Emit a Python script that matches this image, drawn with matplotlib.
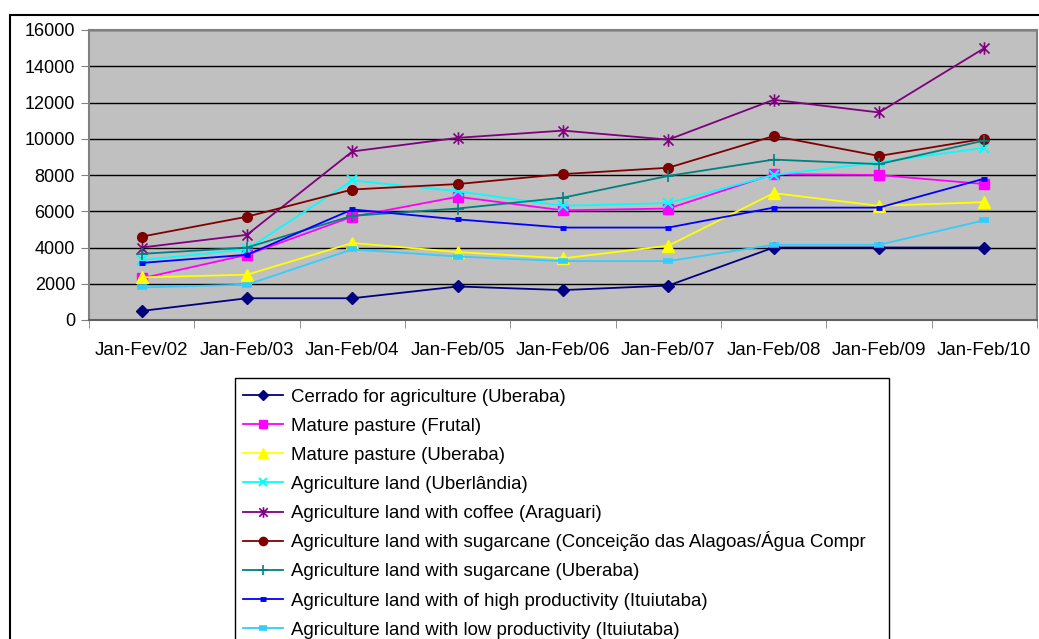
import matplotlib
matplotlib.use("Agg")
import matplotlib.pyplot as plt
from matplotlib.path import Path
from matplotlib.patches import Rectangle
from matplotlib.lines import Line2D

plt.rcParams['font.family'] = ['Liberation Sans', 'DejaVu Sans']

periods = ["Jan-Fev/02", "Jan-Feb/03", "Jan-Feb/04", "Jan-Feb/05", "Jan-Feb/06",
           "Jan-Feb/07", "Jan-Feb/08", "Jan-Feb/09", "Jan-Feb/10"]

cerrado_uberaba = [500, 1200, 1200, 1850, 1650, 1900, 4000, 4000, 4000]
pasture_frutal = [2300, 3600, 5700, 6800, 6050, 6150, 8050, 8000, 7500]
pasture_uberaba = [2350, 2500, 4250, 3750, 3400, 4100, 7000, 6300, 6500]
agri_uberlandia = [3300, 3900, 7700, 7100, 6300, 6450, 8000, 8700, 9500]
coffee_araguari = [4000, 4700, 9300, 10050, 10450, 9950, 12150, 11450, 15000]
sugar_conceicao = [4600, 5700, 7200, 7500, 8050, 8400, 10150, 9050, 10000]
sugar_uberaba = [3650, 4000, 5750, 6150, 6750, 7950, 8850, 8600, 9900]
high_prod_ituiutaba = [3150, 3600, 6100, 5550, 5100, 5100, 6200, 6200, 7800]
low_prod_ituiutaba = [1800, 1950, 3900, 3500, 3250, 3250, 4150, 4150, 5500]

y_ticks = [0, 2000, 4000, 6000, 8000, 10000, 12000, 14000, 16000]

asterisk = Path([(0, -1), (0, 1), (-0.8, -0.8), (0.8, 0.8), (-0.8, 0.8), (0.8, -0.8)],
                [Path.MOVETO, Path.LINETO, Path.MOVETO, Path.LINETO, Path.MOVETO, Path.LINETO])

series = [
    ("Cerrado for agriculture (Uberaba)", cerrado_uberaba, "#000080",
     dict(marker="D", markersize=6)),
    ("Mature pasture (Frutal)", pasture_frutal, "#FF00FF",
     dict(marker="s", markersize=7)),
    ("Mature pasture (Uberaba)", pasture_uberaba, "#FFFF00",
     dict(marker="^", markersize=8)),
    ("Agriculture land (Uberlândia)", agri_uberlandia, "#00FFFF",
     dict(marker="x", markersize=7, markeredgewidth=1.5)),
    ("Agriculture land with coffee (Araguari)", coffee_araguari, "#800080",
     dict(marker=asterisk, markersize=9, markeredgewidth=1.2)),
    ("Agriculture land with sugarcane (Conceição das Alagoas/Água Compr", sugar_conceicao, "#800000",
     dict(marker="o", markersize=7)),
    ("Agriculture land with sugarcane (Uberaba)", sugar_uberaba, "#008080",
     dict(marker="+", markersize=9, markeredgewidth=1.2)),
    ("Agriculture land with of high productivity (Ituiutaba)", high_prod_ituiutaba, "#0000FF",
     dict(marker="_", markersize=5, markeredgewidth=3.5)),
    ("Agriculture land with low productivity (Ituiutaba)", low_prod_ituiutaba, "#33CCFF",
     dict(marker="_", markersize=7, markeredgewidth=4)),
]

W, H = 1039, 639
fig = plt.figure(figsize=(W / 100, H / 100), dpi=100)
fig.patch.set_facecolor("white")


def fx(px):
    return px / W


def fy(py):
    return 1 - py / H


# outer chart frame
fig.add_artist(Rectangle((fx(10), -0.1), 1.2, fy(15) + 0.1,
                         transform=fig.transFigure, fill=False,
                         edgecolor="black", linewidth=1.5))

ax = fig.add_axes([fx(89), fy(320), fx(1037 - 89), (320 - 30) / H])
ax.set_facecolor("#C0C0C0")

x = list(range(len(periods)))
for label, values, color, style in series:
    ax.plot(x, values, color=color, linewidth=1.3, label=label,
            markerfacecolor=color, markeredgecolor=color, **style)

ax.set_xlim(-0.5, len(periods) - 0.5)
ax.set_ylim(0, 16000)
ax.set_yticks(y_ticks)
ax.set_yticklabels([str(v) for v in y_ticks], fontsize=13)
ax.yaxis.grid(True, color="black", linewidth=1)
ax.set_axisbelow(True)

ax.set_xticks(x)
ax.set_xticklabels(periods, fontsize=13.4)
ax.tick_params(axis="x", which="major", length=0, pad=16)
ax.set_xticks([i - 0.5 for i in range(len(periods) + 1)], minor=True)
ax.tick_params(axis="x", which="minor", length=6, direction="out", color="#808080")
ax.tick_params(axis="y", length=6, direction="out", color="#808080", pad=4)

for side in ["top", "right", "left"]:
    ax.spines[side].set_color("#808080")
    ax.spines[side].set_linewidth(1.5)
ax.spines["bottom"].set_color("#606060")
ax.spines["bottom"].set_linewidth(1.5)

# legend box with evenly spaced rows
fig.add_artist(Rectangle((fx(235), -0.1), fx(889 - 235), fy(378) + 0.1,
                         transform=fig.transFigure, fill=False,
                         edgecolor="black", linewidth=1.0))
row_top, row_step = 395, 29.15
for i, (label, values, color, style) in enumerate(series):
    row_y = row_top + i * row_step
    yc = fy(row_y)
    fig.add_artist(Line2D([fx(243), fx(283)], [yc, yc], transform=fig.transFigure,
                          color=color, linewidth=1.3))
    mstyle = dict(style)
    mstyle["markersize"] = style["markersize"] * 0.85
    fig.add_artist(Line2D([fx(263)], [yc], transform=fig.transFigure, linestyle="none",
                          markerfacecolor=color, markeredgecolor=color, **mstyle))
    fig.text(fx(291), fy(row_y + 6.5), label, fontsize=13.4, va="baseline", ha="left")

fig.savefig("out.png", dpi=100)
